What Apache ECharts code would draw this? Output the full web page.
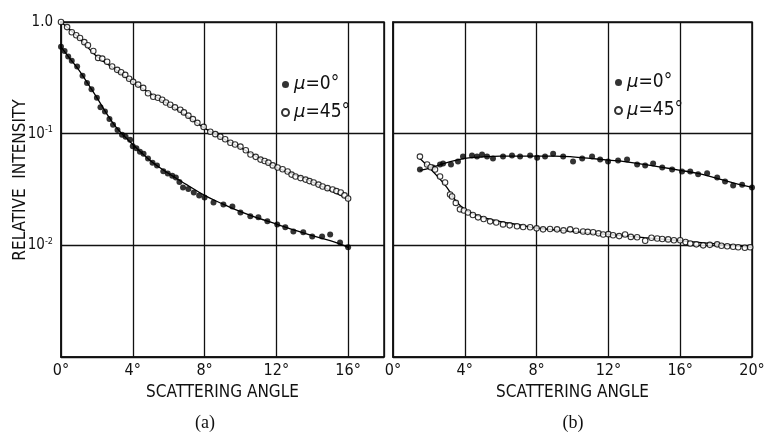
<!DOCTYPE html>
<html>
<head>
<meta charset="utf-8">
<script src="https://cdn.jsdelivr.net/npm/echarts@6/dist/echarts.min.js"></script>
<style>
  html, body { margin: 0; padding: 0; background: #fff; }
  #chart { width: 771px; height: 436px; }
</style>
</head>
<body>
<div id="chart"></div>
<script>
// Angular scans of relative scattered intensity, two azimuths (mu = 0 and 45 deg).
// Each entry: [scattering angle in degrees, relative intensity]

// Panel (a) measured points
const aMu0 = [[0,0.60],[0.2,0.55],[0.4,0.49],[0.6,0.45],[0.9,0.40],[1.2,0.33],[1.45,0.285],[1.7,0.25],
  [2.0,0.21],[2.2,0.172],[2.45,0.158],[2.7,0.135],[2.9,0.12],[3.15,0.108],[3.4,0.098],[3.6,0.094],
  [3.85,0.088],[4.0,0.077],[4.2,0.074],[4.4,0.069],[4.6,0.066],[4.85,0.060],[5.1,0.055],[5.35,0.052],
  [5.7,0.046],[5.95,0.044],[6.2,0.042],[6.4,0.0405],[6.6,0.037],[6.8,0.033],[7.1,0.032],[7.4,0.0297],
  [7.7,0.028],[8.0,0.0268],[8.5,0.0242],[9.05,0.0232],[9.55,0.0223],[10.0,0.0197],[10.55,0.0182],
  [11.0,0.0178],[11.5,0.0164],[12.05,0.0154],[12.5,0.0145],[12.95,0.0133],[13.5,0.0131],[14.0,0.012],
  [14.55,0.012],[15.0,0.0125],[15.55,0.0106],[16.0,0.0096]];
const aMu45 = [[0,1.0],[0.34,0.90],[0.6,0.81],[0.85,0.76],[1.06,0.72],[1.3,0.66],[1.5,0.62],[1.8,0.55],
  [2.07,0.477],[2.3,0.47],[2.57,0.44],[2.85,0.40],[3.13,0.373],[3.35,0.355],[3.58,0.336],[3.8,0.31],
  [4.02,0.291],[4.3,0.275],[4.58,0.257],[4.85,0.23],[5.14,0.214],[5.4,0.21],[5.64,0.201],[5.85,0.19],
  [6.09,0.1815],[6.35,0.172],[6.65,0.164],[6.85,0.155],[7.1,0.145],[7.35,0.135],[7.6,0.125],[7.95,0.115],
  [8.32,0.104],[8.6,0.099],[8.88,0.094],[9.15,0.089],[9.44,0.083],[9.7,0.080],[10.0,0.0766],[10.3,0.071],
  [10.56,0.065],[10.85,0.062],[11.12,0.0586],[11.35,0.057],[11.56,0.055],[11.8,0.052],[12.07,0.0497],
  [12.35,0.048],[12.63,0.0458],[12.85,0.043],[13.07,0.0413],[13.35,0.040],[13.63,0.0388],[13.85,0.0376],
  [14.08,0.0365],[14.35,0.035],[14.58,0.0336],[14.85,0.0325],[15.14,0.0316],[15.35,0.0306],[15.59,0.0297],
  [15.8,0.028],[16.0,0.0263]];

// Panel (a) fitted curves
const aFit0 = [[0,0.60],[0.5,0.47],[1,0.37],[1.5,0.28],[2,0.21],[2.5,0.155],[3,0.118],[3.5,0.096],
  [4,0.080],[5,0.057],[6,0.044],[7,0.035],[8,0.028],[9,0.0235],[10,0.020],[11,0.0175],[12,0.0155],
  [13,0.0137],[14,0.0122],[15,0.011],[16,0.0096]];
const aFit45 = [[0,1.0],[1,0.72],[2,0.49],[3,0.38],[4,0.29],[5,0.228],[6,0.183],[7,0.145],[8,0.112],
  [9,0.091],[10,0.075],[11,0.061],[12,0.050],[13,0.043],[14,0.037],[15,0.031],[16,0.026]];

// Panel (b) measured points
const bMu0 = [[1.5,0.0477],[2.23,0.0498],[2.62,0.0529],[2.79,0.0541],[3.23,0.0529],[3.62,0.0562],
  [3.9,0.0623],[4.4,0.0636],[4.68,0.0623],[4.96,0.065],[5.24,0.0623],[5.57,0.0598],[6.13,0.0623],
  [6.63,0.0636],[7.08,0.0623],[7.64,0.0636],[8.03,0.061],[8.47,0.0623],[8.92,0.0662],[9.48,0.0623],
  [10.03,0.0562],[10.54,0.0598],[11.09,0.0623],[11.54,0.0586],[11.98,0.0562],[12.54,0.0574],
  [13.04,0.0586],[13.6,0.0529],[14.05,0.0518],[14.49,0.0541],[15.0,0.0498],[15.55,0.0477],
  [16.1,0.0458],[16.56,0.0458],[17.0,0.0433],[17.5,0.0443],[18.06,0.0405],[18.5,0.0373],
  [18.95,0.0343],[19.45,0.0349],[20.0,0.033]];
const bMu45 = [[1.5,0.0623],[1.9,0.0529],[2.1,0.050],[2.34,0.0477],[2.62,0.0413],[2.9,0.0365],
  [3.18,0.0285],[3.29,0.0274],[3.5,0.024],[3.73,0.021],[3.95,0.0205],[4.18,0.0197],[4.45,0.0187],
  [4.74,0.0178],[5.05,0.0172],[5.41,0.0164],[5.75,0.0160],[6.13,0.0154],[6.5,0.0151],[6.91,0.0148],
  [7.25,0.0146],[7.64,0.0145],[8.0,0.0142],[8.36,0.0139],[8.75,0.0140],[9.14,0.0139],[9.5,0.0136],
  [9.87,0.0139],[10.2,0.0135],[10.59,0.0133],[10.85,0.0132],[11.15,0.0131],[11.45,0.0128],
  [11.71,0.0125],[12.0,0.0126],[12.26,0.0123],[12.6,0.0121],[12.93,0.0125],[13.25,0.0119],
  [13.6,0.0118],[14.05,0.0110],[14.4,0.0117],[14.72,0.0115],[15.0,0.0114],[15.33,0.0113],
  [15.65,0.0111],[16.0,0.0111],[16.3,0.0107],[16.56,0.0104],[16.9,0.0102],[17.28,0.0100],
  [17.65,0.0101],[18.06,0.0102],[18.3,0.0099],[18.62,0.0098],[18.95,0.0097],[19.23,0.0096],
  [19.6,0.0095],[19.9,0.0096]];

// Panel (b) fitted curves
const bFit0 = [[1.5,0.047],[2,0.049],[3,0.055],[4,0.060],[5,0.062],[6,0.063],[7,0.063],[8,0.063],
  [9,0.063],[10,0.062],[11,0.060],[12,0.058],[13,0.056],[14,0.053],[15,0.050],[16,0.047],[17,0.044],
  [18,0.040],[19,0.036],[20,0.033]];
const bFit45 = [[1.5,0.060],[2,0.050],[2.5,0.041],[3,0.033],[3.5,0.025],[4,0.021],[4.5,0.019],
  [5,0.0178],[6,0.0163],[7,0.0153],[8,0.0143],[10,0.0133],[12,0.0125],[14,0.0117],[16,0.011],
  [18,0.0103],[20,0.0096]];

// Axis tick text
const angleTicks = [0, 4, 8, 12, 16, 20];
const intensityTicks = { 1: '{n|1.0}', 0.1: '{n|10}{s|-1}', 0.01: '{n|10}{s|-2}' };
const seriesNames = ['\u03bc=0\u00b0', '\u03bc=45\u00b0'];

const INK = '#111';
const MARK = '#000';
const FONT = '"Liberation Sans Narrow", "DejaVu Sans Condensed", sans-serif';

function xAxisFor(gridIndex, max) {
  return {
    type: 'value', gridIndex, min: 0, max, interval: 4,
    name: 'SCATTERING ANGLE', nameLocation: 'middle', nameGap: 27,
    nameTextStyle: { fontFamily: FONT, fontSize: 17, color: INK },
    axisLine: { show: true, lineStyle: { color: INK, width: 1.5 } },
    axisTick: { show: false },
    axisLabel: {
      margin: 6, color: INK, fontFamily: FONT, fontSize: 16,
      formatter: v => angleTicks.includes(v) ? v + '\u00b0' : ''
    },
    splitLine: { show: true, lineStyle: { color: INK, width: 1.3 } }
  };
}

function yAxisFor(gridIndex, labelled) {
  return {
    type: 'log', logBase: 10, gridIndex, min: 0.001, max: 1,
    axisLine: { show: true, lineStyle: { color: INK, width: 1.5 } },
    axisTick: { show: false },
    axisLabel: {
      show: labelled, margin: 8, color: INK, fontFamily: FONT,
      formatter: v => intensityTicks[+v.toPrecision(3)] || '',
      rich: {
        n: { fontSize: 15, fontFamily: FONT, color: INK },
        s: { fontSize: 9, fontFamily: FONT, color: INK, verticalAlign: 'top', padding: [0, 0, 8, 0] }
      }
    },
    splitLine: { show: true, lineStyle: { color: INK, width: 1.3 } }
  };
}

function points(name, data, xi, filled) {
  return {
    type: 'scatter', name, data, xAxisIndex: xi, yAxisIndex: xi,
    symbol: 'circle', symbolSize: filled ? 6 : 5.5,
    itemStyle: filled
      ? { color: MARK, borderColor: MARK, borderWidth: 0 }
      : { color: '#fff', borderColor: MARK, borderWidth: 1.1 },
    z: 3
  };
}

function curve(data, xi) {
  return {
    type: 'line', name: 'fit', data, xAxisIndex: xi, yAxisIndex: xi,
    smooth: 0.4, showSymbol: false, symbol: 'none',
    lineStyle: { color: MARK, width: 1.3 }, silent: true, z: 2
  };
}

function legendAt(left, top) {
  return {
    data: seriesNames, left, top, orient: 'vertical', itemGap: 9,
    itemWidth: 7, itemHeight: 7, icon: 'circle',
    textStyle: {
      fontFamily: FONT, fontSize: 19, color: INK,
      rich: { m: { fontFamily: '"DejaVu Sans", sans-serif', fontStyle: 'italic', fontSize: 18, color: INK } }
    },
    formatter: n => '{m|\u03bc}' + n.slice(1)
  };
}

const chart = echarts.init(document.getElementById('chart'), null, { renderer: 'canvas' });
chart.setOption({
  backgroundColor: '#fff',
  animation: false,
  grid: [
    { left: 61, top: 22, width: 323, height: 335, show: true, borderColor: INK, borderWidth: 1.5 },
    { left: 393, top: 22, width: 359, height: 335, show: true, borderColor: INK, borderWidth: 1.5 }
  ],
  xAxis: [xAxisFor(0, 18), xAxisFor(1, 20)],
  yAxis: [yAxisFor(0, true), yAxisFor(1, false)],
  legend: [legendAt(276, 70), legendAt(609, 68)],
  series: [
    curve(aFit0, 0), curve(aFit45, 0),
    points(seriesNames[0], aMu0, 0, true), points(seriesNames[1], aMu45, 0, false),
    curve(bFit0, 1), curve(bFit45, 1),
    points(seriesNames[0], bMu0, 1, true), points(seriesNames[1], bMu45, 1, false)
  ],
  graphic: [
    {
      type: 'text', x: 21, y: 180, rotation: Math.PI / 2,
      style: { text: 'RELATIVE  INTENSITY', fontFamily: FONT, fontSize: 17, fill: INK,
               align: 'center', verticalAlign: 'middle' }
    },
    {
      type: 'text', x: 205, y: 423,
      style: { text: '(a)', fontFamily: '"Liberation Serif", serif', fontSize: 18, fill: INK,
               align: 'center', verticalAlign: 'middle' }
    },
    {
      type: 'text', x: 573, y: 423,
      style: { text: '(b)', fontFamily: '"Liberation Serif", serif', fontSize: 18, fill: INK,
               align: 'center', verticalAlign: 'middle' }
    }
  ]
});
</script>
</body>
</html>
